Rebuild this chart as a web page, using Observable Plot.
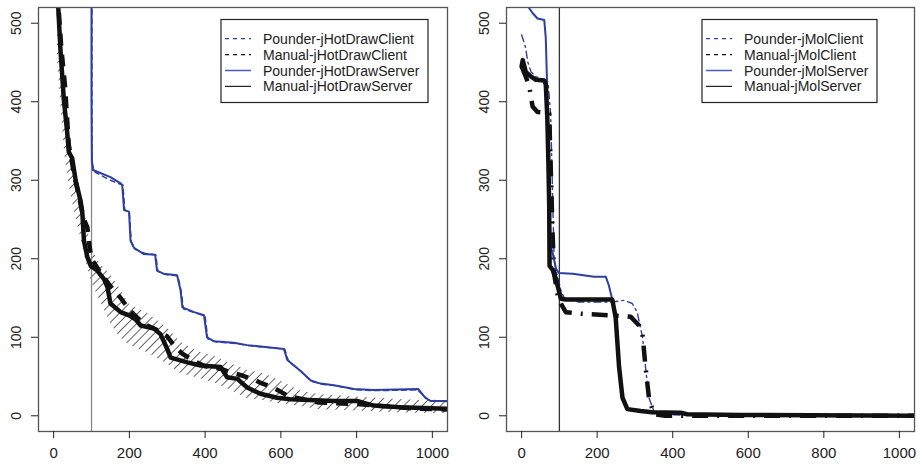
<!DOCTYPE html>
<html><head><meta charset="utf-8">
<script src="https://cdn.jsdelivr.net/npm/d3@7"></script>
<script src="https://cdn.jsdelivr.net/npm/@observablehq/plot@0.6"></script>
<style>
body{margin:0;background:#fff;}
#wrap{display:flex;width:922px;height:464px;overflow:hidden;}
</style></head><body><div id="wrap"></div>
<script>
const xTicks = [0, 200, 400, 600, 800, 1000];
const yTicks = [0, 100, 200, 300, 400, 500];
const cutoff = [100];

// ---- Left panel: jHotDraw ----
const hdLegend = ["Pounder-jHotDrawClient", "Manual-jHotDrawClient", "Pounder-jHotDrawServer", "Manual-jHotDrawServer"];

const hdPounderClientX = [101,101,103,110,130,150,175,183,188,200,205,215,240,270,275,295,328,337,343,375,400,407,430,480,520,610,620,655,680,710,750,800,850,960,975,990,1040];
const hdPounderClientY = [540,330,318,310,305,300,295,294,262,259,222,212,207,205,184,180,178,158,136,131,127,98,94,92,89,85,70,56,44,40,38,33,32,33,27,20,18];

const hdManualClientX = [10,20,30,40,55,70,80,89,95,100,120,150,177,200,238,270,300,320,340,370,400,440,470,500,530,546,580,620,700,800,880,960,1040];
const hdManualClientY = [540,470,420,345,305,272,250,240,215,200,185,165,150,135,117,110,101,88,79,70,63,60,55,51,46,42,36,25,17,15,12,9,8];

const hdPounderServerX = [100,100,101,104,150,177,181,186,199,203,212,238,268,273,290,326,335,340,371,397,405,423,476,511,608,617,652,679,705,740,793,845,963,981,995,1040];
const hdPounderServerY = [540,400,325,313,304,296,294,262,260,223,214,206,205,185,181,179,160,138,132,128,100,95,93,90,85,71,57,45,41,39,34,33,34,23,19,19];

const hdManualServerX = [10,18,27,36,40,49,58,71,76,80,89,98,115,133,142,150,177,199,216,230,265,282,300,309,353,388,441,458,485,511,546,590,625,740,801,845,915,1040];
const hdManualServerY = [540,466,402,360,336,328,300,274,257,223,202,191,185,174,164,143,132,128,123,115,111,104,85,74,68,64,62,49,47,36,28,23,21,19,19,13,11,9];

const hdBandX  = [10,20,30,40,55,70,85,100,125,150,175,200,250,300,335,380,423,470,511,560,600,650,700,800,900,1000,1040];
const hdBandLo = [455,390,330,296,260,230,198,170,144,118,100,90,80,66,54,48,42,32,22,19,15,12,8,6,4,3,3];
const hdBandHi = [545,480,415,345,312,282,252,212,192,180,162,142,130,112,94,82,76,66,58,53,44,32,27,24,21,19,17];

// ---- Right panel: jMol ----
const jmLegend = ["Pounder-jMolClient", "Manual-jMolClient", "Pounder-jMolServer", "Manual-jMolServer"];

const jmPounderClientX = [0,5,11,16,25,38,60,70,77,86,95,104,113,150,240,271,293,306,320,328,337,350,363,420,1040];
const jmPounderClientY = [485,478,468,451,438,432,428,425,383,200,177,160,150,145,145,147,143,132,100,62,23,6,2,1,0];

const jmManualClientX = [0,11,20,25,29,42,60,70,73,77,82,86,95,104,117,157,236,289,311,320,328,337,350,380,1040];
const jmManualClientY = [445,432,420,406,394,387,386,386,385,317,232,181,155,143,132,130,128,126,115,104,62,23,2,0,0];

const jmPounderServerX = [15,20,29,42,60,64,67,70,73,77,82,91,99,135,192,223,231,240,250,258,267,280,315,345,421,438,579,1040];
const jmPounderServerY = [530,519,513,506,504,481,430,360,274,215,208,187,182,181,177,177,166,148,125,62,23,8,6,4,4,2,1,0];

const jmManualServerX = [0,3,11,25,38,60,64,68,71,73,74,82,91,104,117,240,249,258,267,280,315,345,421,438,579,1040];
const jmManualServerY = [445,453,438,432,428,427,422,380,320,268,191,186,174,149,148,148,125,62,23,8.5,6,4.5,4,2,1,0];

const BLUE = "#2c3fa3";
const FONT = "'Liberation Sans', Arial, Helvetica, sans-serif";

function series(xs, ys) { return xs.map((x, i) => ({x, y: ys[i]})); }
function band(xs, lo, hi) { return xs.map((x, i) => ({x, lo: lo[i], hi: hi[i]})); }

function panel({id, marginLeft, marginRight, pc, mc, ps, ms, bandData, ruleColor, legendNames, legendX, legendW, clientDash, blueDash}) {
  const marks = [];
  if (bandData) {
    marks.push(Plot.areaY(bandData, {x: "x", y1: "lo", y2: "hi", fill: `url(#hatch-${id})`, clip: true}));
  }
  marks.push(
    Plot.ruleX(cutoff, {stroke: ruleColor, strokeWidth: 1.3}),
    Plot.line(pc, {x: "x", y: "y", stroke: BLUE, strokeWidth: 1.4, strokeDasharray: blueDash, clip: true}),
    Plot.line(mc, {x: "x", y: "y", stroke: "#111", strokeWidth: 4.5, strokeDasharray: clientDash, strokeLinecap: "butt", clip: true}),
    Plot.line(ps, {x: "x", y: "y", stroke: BLUE, strokeWidth: 2, clip: true}),
    Plot.line(ms, {x: "x", y: "y", stroke: "#111", strokeWidth: 4.5, strokeLinecap: "round", strokeLinejoin: "round", clip: true}),
    Plot.frame({stroke: "#555", strokeWidth: 1.3}),
    Plot.axisX(xTicks, {tickSize: 7, tickPadding: 9, fontSize: 15, tickFormat: d => String(d), label: null}),
    Plot.axisY(yTicks, {tickSize: 7, tickFormat: () => "", label: null}),
    Plot.text(yTicks, {y: d => d, text: d => String(d), frameAnchor: "left", dx: -22, rotate: -90,
      textAnchor: "middle", lineAnchor: "middle", fontSize: 14, fill: "#222"})
  );
  const svg = Plot.plot({
    width: 461, height: 464,
    marginLeft, marginRight, marginTop: 7, marginBottom: 33,
    x: {domain: [-40, 1040], label: null},
    y: {domain: [-20, 520], label: null},
    style: {fontFamily: FONT, color: "#222", background: "#fff", overflow: "visible"},
    marks
  });
  const s = d3.select(svg);
  s.insert("defs", ":first-child").html(
    `<pattern id="hatch-${id}" patternUnits="userSpaceOnUse" width="6.5" height="6.5" patternTransform="rotate(45)">` +
    `<line x1="0" y1="0" x2="0" y2="6.5" stroke="#111" stroke-width="1.3"/></pattern>`
  );
  // legend
  const g = s.append("g").attr("font-family", FONT).attr("font-size", 14).attr("text-anchor", "start");
  g.append("rect").attr("x", legendX).attr("y", 19.5).attr("width", legendW).attr("height", 83)
    .attr("fill", "#fff").attr("stroke", "#222").attr("stroke-width", 1.2);
  const styles = [
    {stroke: BLUE, dash: "4,4", w: 1.2},
    {stroke: "#111", dash: "4,4", w: 1.2},
    {stroke: "#4a5cc0", dash: null, w: 1.5},
    {stroke: "#222", dash: null, w: 1.2}
  ];
  legendNames.forEach((name, i) => {
    const cy = 38.7 + i * 15.9;
    g.append("line").attr("x1", legendX + 4).attr("x2", legendX + 30).attr("y1", cy).attr("y2", cy)
      .attr("stroke", styles[i].stroke).attr("stroke-width", styles[i].w)
      .attr("stroke-dasharray", styles[i].dash);
    g.append("text").attr("x", legendX + 42).attr("y", cy + 5).attr("fill", "#222")
      .attr("text-anchor", "start").text(name);
  });
  return svg;
}

const wrap = document.getElementById("wrap");
wrap.appendChild(panel({
  id: "L", marginLeft: 38, marginRight: 14,
  pc: series(hdPounderClientX, hdPounderClientY),
  mc: series(hdManualClientX, hdManualClientY),
  ps: series(hdPounderServerX, hdPounderServerY),
  ms: series(hdManualServerX, hdManualServerY),
  bandData: band(hdBandX, hdBandLo, hdBandHi),
  ruleColor: "#888", legendNames: hdLegend, legendX: 221, legendW: 207,
  clientDash: "12,9", blueDash: "5,4"
}));
wrap.appendChild(panel({
  id: "R", marginLeft: 45, marginRight: 8,
  pc: series(jmPounderClientX, jmPounderClientY),
  mc: series(jmManualClientX, jmManualClientY),
  ps: series(jmPounderServerX, jmPounderServerY),
  ms: series(jmManualServerX, jmManualServerY),
  bandData: null,
  ruleColor: "#333", legendNames: jmLegend, legendX: 241, legendW: 175,
  clientDash: "16,9,2,9", blueDash: "7,4,2,4"
}));
</script></body></html>
